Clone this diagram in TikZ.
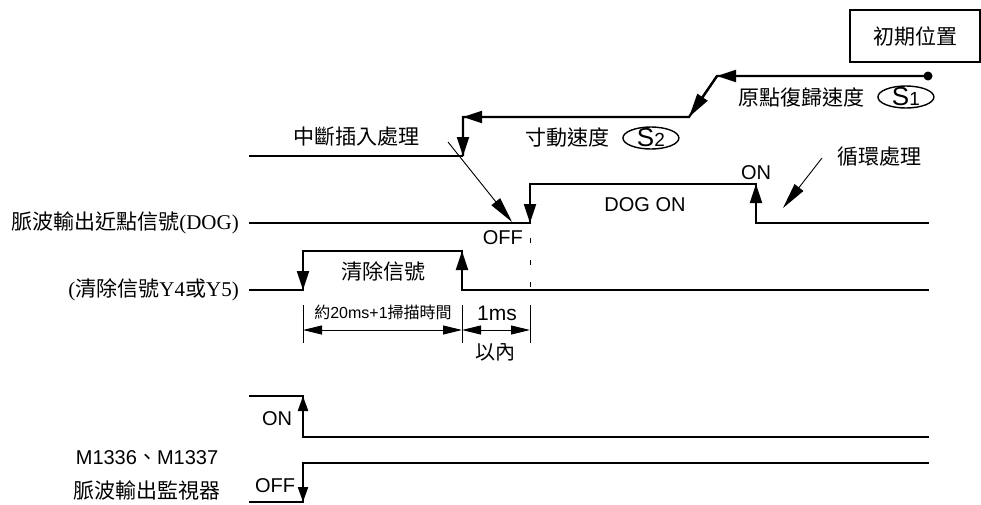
\documentclass[tikz,border=0pt]{standalone}
\usepackage{fontspec}
\setmainfont{Liberation Sans}
\newfontfamily\cjk{Noto Sans CJK TC}
\newfontfamily\tms{Liberation Serif}
\usepackage{tikz}
\usetikzlibrary{arrows.meta,shapes.geometric,positioning}
\newcommand\setfs[1]{\fontsize{#1}{#1}\selectfont}

\begin{document}
\begin{tikzpicture}[
  x=1pt,y=-1pt,
  font=\setfs{20},
  sig/.style={line width=2.2pt},
  sarr/.style={sig,-{Triangle[length=19pt,width=12pt]}},
  barr/.style={sig,-{Triangle[length=15pt,width=10pt]}},
  larr/.style={sig,-{Triangle[length=24pt,width=12pt]}},
  fine/.style={line width=0.9pt},
  tarr/.style={fine,-{Triangle[length=26pt,width=11pt]}},
  darr/.style={fine,{Triangle[length=19pt,width=9pt]}-{Triangle[length=19pt,width=9pt]}},
  lbl/.style={inner sep=0pt},
  ctxt/.style={lbl,font=\setfs{21}\cjk},
  spd/.style={draw,ellipse,line width=1.4pt,minimum width=56pt,
              minimum height=22pt,inner xsep=0pt,inner ysep=-3pt},
  posbox/.style={draw,line width=1.8pt,minimum width=130pt,
                 minimum height=52pt,inner sep=0pt,font=\setfs{21}\cjk},
]
  \useasboundingbox (0,0) rectangle (981,504);

  \coordinate (i0) at (249,156);
  \coordinate (i1) at (463,156);
  \coordinate (i2) at (463,117);
  \coordinate (j1) at (689,117);
  \coordinate (j2) at (717,76);
  \coordinate (s1) at (928,76);

  \coordinate (d0) at (249,223);
  \coordinate (d1) at (530,223);
  \coordinate (d2) at (530,184);
  \coordinate (d3) at (756,184);
  \coordinate (d4) at (756,223);
  \coordinate (d5) at (929,223);

  \coordinate (c0) at (249,290);
  \coordinate (c1) at (303,290);
  \coordinate (c2) at (303,251);
  \coordinate (c3) at (462,251);
  \coordinate (c4) at (462,290);
  \coordinate (c5) at (929,290);

  \coordinate (n0) at (249,396);
  \coordinate (n1) at (303,396);
  \coordinate (n2) at (303,437);
  \coordinate (n3) at (929,437);
  \coordinate (f0) at (249,502);
  \coordinate (f1) at (303,502);
  \coordinate (f2) at (303,463);
  \coordinate (f3) at (929,463);

  \coordinate (k0) at (448,142);
  \coordinate (k1) at (512,222);
  \coordinate (r0) at (822,158);
  \coordinate (r1) at (783,208);

  \coordinate (t0) at (303,330);
  \coordinate (t1) at (462,330);
  \coordinate (t2) at (530,330);

  \node[posbox] (init) at (915,36) {初期位置};
  \node[ctxt] (hometxt) at (801,97) {原點復歸速度};
  \node[spd,right=13pt of hometxt] (s1e) {\setfs{26}S\setfs{19}1};
  \node[ctxt] (jogtxt) at (567,138) {寸動速度};
  \node[spd,right=13pt of jogtxt] (s2e) {\setfs{26}S\setfs{19}2};
  \node[ctxt] (irq) at (356,137) {中斷插入處理};

  \draw[sig] (i0) -- (i1);
  \draw[sig] (s1) -- (j2) -- (j1) -- (i2) -- (i1);
  \draw[sarr] (s1) -- (j2);
  \draw[larr] (j2) -- (j1);
  \draw[sarr] (j1) -- (i2);
  \draw[sarr] (i2) -- (i1);
  \fill (s1) circle (4.5);

  \draw[sig] (d0) -- (d1) -- (d2) -- (d3) -- (d4) -- (d5);
  \draw[sarr] (d2) -- (d1);
  \draw[sarr] (d4) -- (d3);
  \node[ctxt,left=10pt of d0] {脈波輸出近點信號{\tms (DOG)}};
  \node[lbl,below left=7pt and 7pt of d1] {OFF};
  \node[lbl] at (645,205) {DOG ON};
  \node[lbl,above=4pt of d3] {ON};
  \node[ctxt] (loop) at (879,157) {循環處理};
  \draw[tarr] (k0) -- (k1);
  \draw[tarr] (r0) -- (r1);

  \draw[sig] (c0) -- (c1) -- (c2) -- (c3) -- (c4) -- (c5);
  \draw[sarr] (c2) -- (c1);
  \draw[sarr] (c4) -- (c3);
  \node[ctxt,left=10pt of c0] {{\tms (}清除信號{\tms Y4}或{\tms Y5)}};
  \node[ctxt] at (383,272) {清除信號};
  \draw[fine,dash pattern=on 5pt off 17pt] ([yshift=-15pt]d1) -- (d1 |- c0);

  \foreach \x in {303,462,530}
    \draw[fine] (\x,305) -- (\x,343);
  \draw[darr] (t0) -- (t1);
  \draw[darr] (t1) -- (t2);
  \node[lbl,font=\setfs{16}] at (383,312) {{\cjk 約}20ms+1{\cjk 掃描時間}};
  \node[lbl,font=\setfs{21}] at (497,313) {1ms};
  \node[ctxt,font=\setfs{20}\cjk] at (495,352) {以內};

  \draw[sig] (n0) -- (n1) -- (n2) -- (n3);
  \draw[barr] (n2) -- (n1);
  \draw[sig] (f0) -- (f1) -- (f2) -- (f3);
  \draw[barr] (f2) -- (f1);
  \node[lbl] at (277,419) {ON};
  \node[lbl] at (275,486) {OFF};
  \node[lbl] at (147,458) {M1336{\cjk 、}M1337};
  \node[ctxt] at (147,490) {脈波輸出監視器};
\end{tikzpicture}
\end{document}
